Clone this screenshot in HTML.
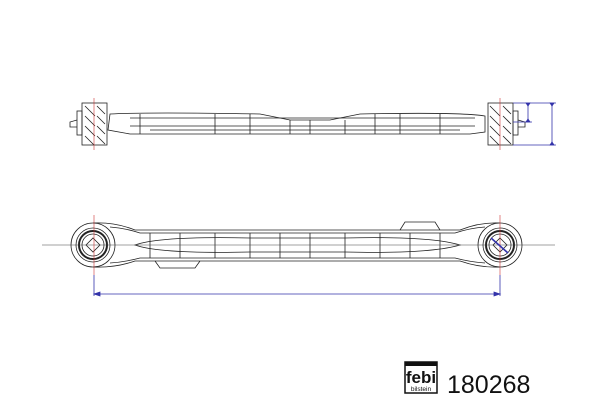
<!DOCTYPE html>
<html><head><style>body{margin:0;background:#fff}svg{display:block}</style></head><body>
<svg width="600" height="400" xmlns="http://www.w3.org/2000/svg" font-family="Liberation Sans, sans-serif">
<g fill="none" stroke="#222" stroke-width="0.8">
<path d="M110 114 Q150 112 260 114 L290 120 L330 120 L360 114 Q460 112 485 116 L485 132 L470 134 L130 134 L108 130 Z"/>
<path d="M130 118 L475 118 M130 126 L475 126 M150 130 L460 130"/>
<path d="M140 114 V134 M215 114 V134 M250 114 V134 M290 120 V134 M310 120 V134 M345 120 V134 M375 114 V134 M400 114 V134 M440 114 V134"/>
<rect x="82" y="103" width="25" height="42" fill="#fff"/>
<rect x="488" y="103" width="25" height="42" fill="#fff"/>
<path d="M85 106 L95 116 M85 116 L95 126 M85 126 L95 136 M85 136 L94 145 M97 106 L105 114 M97 116 L105 124 M97 126 L105 134 M97 136 L105 144 M490 106 L500 116 M490 116 L500 126 M490 126 L500 136 M490 136 L499 145 M503 106 L511 114 M503 116 L511 124 M503 126 L511 134 M503 136 L511 144"/>
<rect x="77" y="111" width="5" height="24"/><rect x="513" y="111" width="5" height="24"/>
<path d="M77 120 L70 122 L70 127 L77 127 M518 120 L525 122 L525 127 L518 127"/>
<circle cx="93" cy="245" r="22"/><circle cx="93" cy="245" r="17"/><circle cx="93" cy="245" r="14" stroke-width="2"/><circle cx="93" cy="245" r="11"/>
<circle cx="500" cy="245" r="22"/><circle cx="500" cy="245" r="17"/><circle cx="500" cy="245" r="14" stroke-width="2"/><circle cx="500" cy="245" r="11"/>
<path d="M93 238 L100 245 L93 252 L86 245 Z M500 238 L507 245 L500 252 L493 245 Z"/>
<path d="M93 223 Q115 222 135 230 L460 230 Q480 222 500 223 M93 267 Q115 268 135 261 L460 261 Q480 268 500 267"/>
<path d="M110 227 Q125 228 140 233 L455 233 Q470 228 485 227 M110 263 Q125 262 140 258 L455 258 Q470 262 485 263"/>
<path d="M135 245 Q160 236 250 238 L345 238 Q430 236 460 245 Q430 254 345 252 L250 252 Q160 254 135 245 Z"/>
<path d="M150 233 V258 M180 233 V258 M215 233 V258 M250 233 V258 M280 233 V258 M310 233 V258 M345 233 V258 M380 233 V258 M410 233 V258 M440 233 V258"/>
<path d="M155 261 L160 268 L195 268 L200 261 M400 230 L405 222 L435 222 L440 230"/>
</g>
<g stroke="#444" stroke-width="0.6"><line x1="42" y1="245" x2="555" y2="245"/></g>
<g stroke="#c33" stroke-width="0.6"><line x1="94" y1="98" x2="94" y2="150"/><line x1="500" y1="98" x2="500" y2="150"/><line x1="94" y1="215" x2="94" y2="275"/><line x1="500" y1="215" x2="500" y2="275"/></g>
<g stroke="#33a" stroke-width="0.8" fill="#33a">
<line x1="94" y1="275" x2="94" y2="296"/><line x1="500" y1="275" x2="500" y2="296"/>
<line x1="96" y1="294" x2="498" y2="294"/>
<path d="M94 294 l6 -2 v4 Z M500 294 l-6 -2 v4 Z"/>
<line x1="491" y1="238" x2="508" y2="253" stroke-width="1.6"/>
<line x1="513" y1="103" x2="556" y2="103"/><line x1="513" y1="122" x2="532" y2="122"/><line x1="513" y1="145" x2="556" y2="145"/>
<line x1="528" y1="103" x2="528" y2="122"/><line x1="552" y1="103" x2="552" y2="145"/>
<path d="M528 106 l-2 -3 h4Z M528 119 l-2 3 h4Z M552 106 l-2 -3 h4Z M552 142 l-2 3 h4Z"/>
</g>
<rect x="405" y="362" width="32" height="31" fill="#fff" stroke="#111" stroke-width="1.5"/>
<rect x="405" y="362" width="32" height="4" fill="#111"/>
<text x="421" y="383" font-size="17" font-weight="bold" fill="#111" text-anchor="middle">febi</text>
<text x="421" y="391" font-size="6.5" fill="#111" text-anchor="middle">bilstein</text>
<text x="447" y="393" font-size="25" fill="#111">180268</text>
</svg>
</body></html>
